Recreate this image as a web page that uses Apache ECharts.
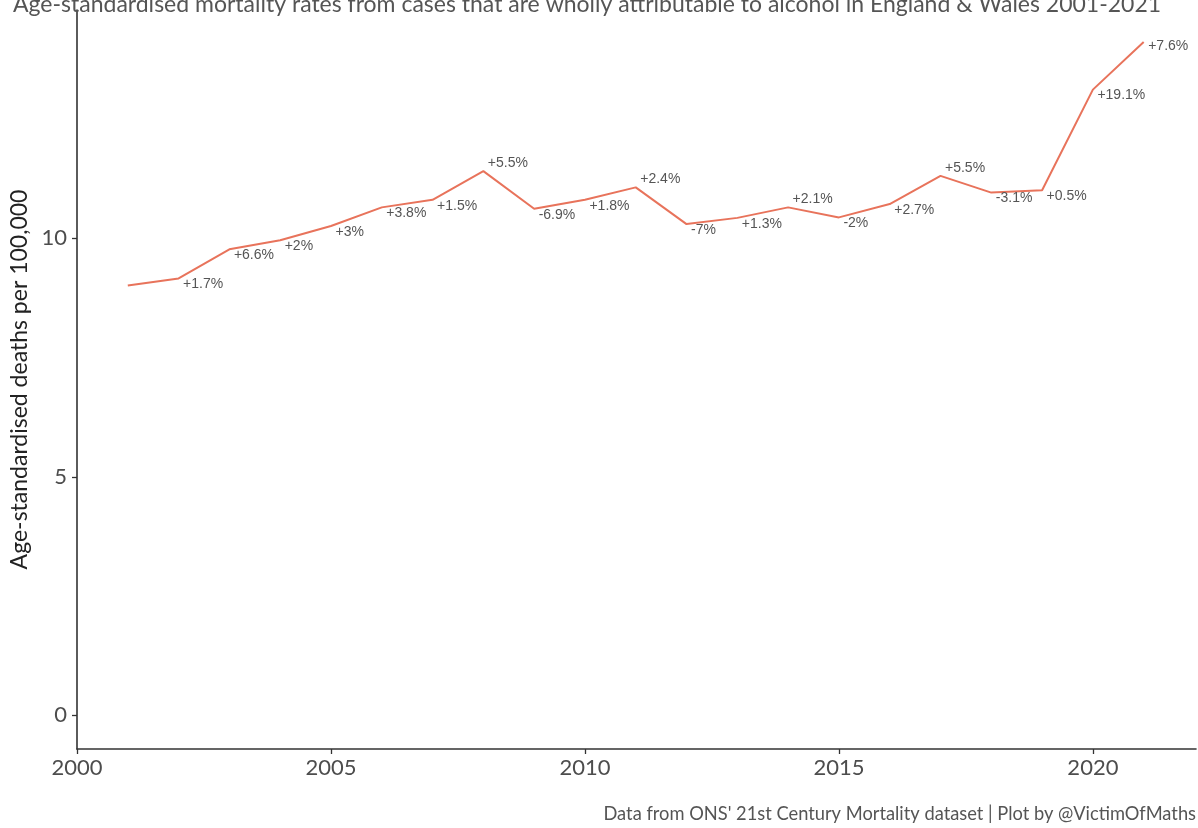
<!DOCTYPE html>
<html>
<head>
<meta charset="utf-8">
<style>
html,body{margin:0;padding:0;background:#fff;}
#chart{width:1198px;height:828px;}
</style>
<script src="https://cdn.jsdelivr.net/npm/echarts@6/dist/echarts.min.js"></script>
</head>
<body>
<div id="chart"></div>
<script>
var years = [2001,2002,2003,2004,2005,2006,2007,2008,2009,2010,2011,2012,2013,2014,2015,2016,2017,2018,2019,2020,2021];
var rates = [9.01,9.16,9.77,9.96,10.26,10.65,10.81,11.41,10.62,10.81,11.07,10.30,10.43,10.65,10.44,10.72,11.31,10.96,11.01,13.12,14.12];
var changeLabels = ['', '+1.7%','+6.6%','+2%','+3%','+3.8%','+1.5%','+5.5%','-6.9%','+1.8%','+2.4%','-7%','+1.3%','+2.1%','-2%','+2.7%','+5.5%','-3.1%','+0.5%','+19.1%','+7.6%'];
var xTicks = [2000,2005,2010,2015,2020];
var yTicks = [0,5,10];
var titleText = 'Age-standardised mortality rates from cases that are wholly attributable to alcohol in England & Wales 2001-2021';
var yName = 'Age-standardised deaths per 100,000';
var captionText = "Data from ONS' 21st Century Mortality dataset | Plot by @VictimOfMaths";

var n = rates.length;
function labelDy(i) {
  var isPeak = i > 0 && i < n - 1 && rates[i] > rates[i - 1] && rates[i] > rates[i + 1];
  return i === n - 1 ? 4 : (isPeak ? -8 : 6);
}
var seriesData = years.map(function (y, i) {
  return {
    value: [y, rates[i]],
    label: { show: changeLabels[i] !== '', formatter: changeLabels[i] }
  };
});

var chart = echarts.init(document.getElementById('chart'));
chart.setOption({
  animation: false,
  backgroundColor: '#ffffff',
  title: {
    text: titleText,
    left: 8,
    top: -12,
    textStyle: { fontFamily: 'Lato', fontSize: 23, fontWeight: 'normal', color: '#555555' }
  },
  graphic: [{
    type: 'text',
    right: 2,
    top: 805,
    style: { text: captionText, font: '18.3px Lato', fill: '#555555' }
  }],
  grid: { left: 77, right: 2, top: 10, bottom: 79, containLabel: false, outerBoundsMode: 'none' },
  xAxis: {
    type: 'value',
    min: 2000,
    max: 2022.03,
    splitLine: { show: false },
    axisLine: { show: true, onZero: false, lineStyle: { color: '#333333', width: 1.6 } },
    axisTick: { show: true, length: 5, lineStyle: { color: '#333333', width: 1.3 }, customValues: xTicks },
    axisLabel: { customValues: xTicks, fontFamily: 'Lato', fontSize: 22, color: '#4d4d4d', margin: 8, formatter: function (v) { return String(v); } }
  },
  yAxis: {
    type: 'value',
    min: -0.71,
    max: 14.79,
    name: yName,
    nameLocation: 'middle',
    nameGap: 46,
    nameTextStyle: { fontFamily: 'Lato', fontSize: 23, color: '#222222' },
    splitLine: { show: false },
    axisLine: { show: true, onZero: false, lineStyle: { color: '#333333', width: 1.6 } },
    axisTick: { show: true, length: 5, lineStyle: { color: '#333333', width: 1.3 }, customValues: yTicks },
    axisLabel: { customValues: yTicks, fontFamily: 'Lato', fontSize: 22, color: '#4d4d4d', margin: 10, formatter: function (v) { return String(v); } }
  },
  series: [{
    type: 'line',
    data: seriesData,
    symbol: 'circle',
    symbolSize: 1,
    itemStyle: { color: 'rgba(0,0,0,0)' },
    lineStyle: { color: '#e8735b', width: 2 },
    label: {
      show: true,
      position: 'right',
      distance: 4,
      fontFamily: 'Liberation Sans',
      fontSize: 14,
      color: '#555555'
    },
    labelLayout: function (params) {
      return { dy: labelDy(params.dataIndex), hideOverlap: false };
    }
  }]
});
</script>
</body>
</html>
